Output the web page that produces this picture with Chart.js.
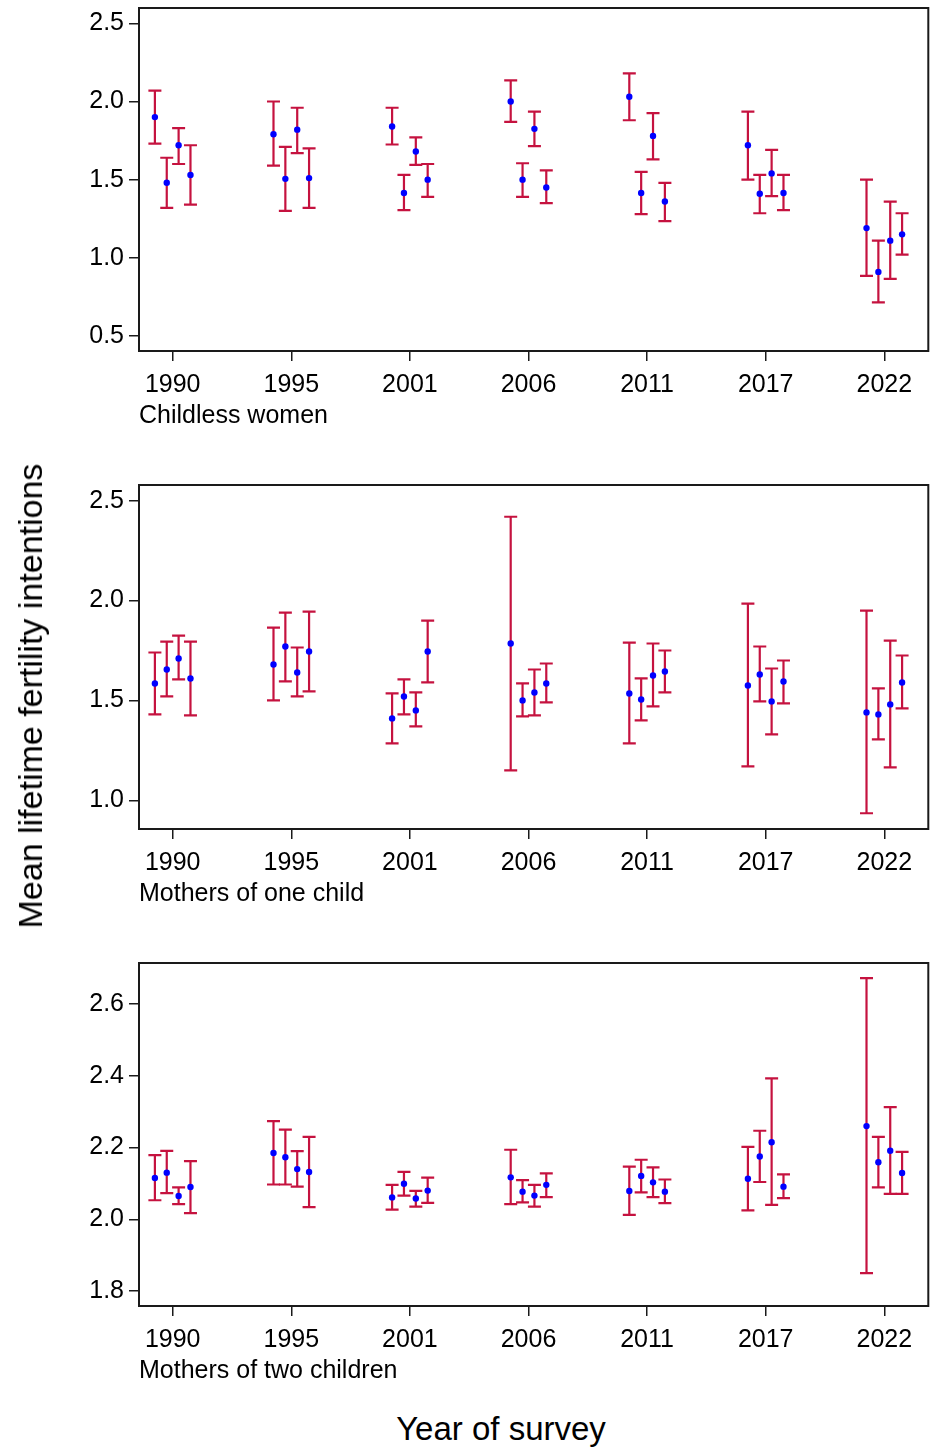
<!DOCTYPE html>
<html>
<head>
<meta charset="utf-8">
<script src="https://cdn.jsdelivr.net/npm/chart.js@4.4.1/dist/chart.umd.min.js"></script>
<style>
    body { margin: 0; background: #fff; }
    #page { position: relative; width: 932px; height: 1450px; font-family: "Liberation Sans", Arial, sans-serif; color: #000; }
    .panel { position: absolute; left: 0; }
    #yTitle {
        position: absolute; left: 30px; top: 696px; font-size: 34px; line-height: 1;
        white-space: nowrap; transform: translate(-50%, -50%) rotate(-90deg);
    }
    #xTitle {
        position: absolute; left: 501px; top: 1428px; font-size: 33px; line-height: 1;
        white-space: nowrap; transform: translate(-50%, -50%);
    }
</style>
</head>
<body>
<div id="page">
    <div class="panel" style="top:0px"><canvas id="childless" width="932" height="440"></canvas></div>
    <div class="panel" style="top:477px"><canvas id="oneChild" width="932" height="441"></canvas></div>
    <div class="panel" style="top:955px"><canvas id="twoChildren" width="932" height="440"></canvas></div>
    <div id="yTitle">Mean lifetime fertility intentions</div>
    <div id="xTitle">Year of survey</div>
</div>

<script>
// Survey rounds (x categories) and the offset of the 4 estimates inside each round
const surveyYears = ['1990', '1995', '2001', '2006', '2011', '2017', '2022'];
const pointOffsets = [-0.15, -0.05, 0.05, 0.15];

// Childless women: means and 95% CI bounds, one row per survey round
const childlessMean = [
    [1.90, 1.48, 1.72, 1.53],
    [1.79, 1.505, 1.82, 1.51],
    [1.84, 1.415, 1.68, 1.50],
    [2.00, 1.50, 1.825, 1.45],
    [2.03, 1.415, 1.78, 1.36],
    [1.72, 1.41, 1.54, 1.415],
    [1.19, 0.91, 1.11, 1.15]
];
const childlessLow = [
    [1.73, 1.32, 1.60, 1.34],
    [1.59, 1.30, 1.67, 1.32],
    [1.725, 1.305, 1.595, 1.39],
    [1.87, 1.39, 1.715, 1.35],
    [1.88, 1.28, 1.63, 1.235],
    [1.50, 1.285, 1.395, 1.305],
    [0.885, 0.715, 0.865, 1.02]
];
const childlessHigh = [
    [2.07, 1.64, 1.83, 1.72],
    [2.00, 1.71, 1.96, 1.70],
    [1.96, 1.53, 1.77, 1.60],
    [2.135, 1.605, 1.935, 1.56],
    [2.18, 1.55, 1.925, 1.48],
    [1.935, 1.53, 1.69, 1.53],
    [1.50, 1.11, 1.36, 1.285]
];

// Mothers of one child
const oneChildMean = [
    [1.585, 1.655, 1.71, 1.61],
    [1.68, 1.77, 1.64, 1.745],
    [1.41, 1.52, 1.45, 1.745],
    [1.785, 1.50, 1.54, 1.585],
    [1.535, 1.505, 1.625, 1.645],
    [1.575, 1.63, 1.495, 1.595],
    [1.44, 1.43, 1.48, 1.59]
];
const oneChildLow = [
    [1.43, 1.52, 1.605, 1.425],
    [1.50, 1.595, 1.52, 1.545],
    [1.285, 1.43, 1.37, 1.59],
    [1.15, 1.42, 1.425, 1.49],
    [1.285, 1.40, 1.47, 1.54],
    [1.17, 1.495, 1.33, 1.485],
    [0.935, 1.305, 1.165, 1.46]
];
const oneChildHigh = [
    [1.74, 1.795, 1.825, 1.795],
    [1.865, 1.94, 1.765, 1.945],
    [1.535, 1.605, 1.54, 1.90],
    [2.42, 1.585, 1.655, 1.685],
    [1.79, 1.61, 1.785, 1.75],
    [1.985, 1.77, 1.66, 1.70],
    [1.95, 1.56, 1.80, 1.725]
];

// Mothers of two children
const twoChildrenMean = [
    [2.115, 2.13, 2.065, 2.09],
    [2.185, 2.173, 2.14, 2.132],
    [2.061, 2.099, 2.058, 2.08],
    [2.117, 2.077, 2.066, 2.096],
    [2.079, 2.121, 2.103, 2.077],
    [2.113, 2.175, 2.215, 2.091],
    [2.26, 2.159, 2.191, 2.129]
];
const twoChildrenLow = [
    [2.053, 2.073, 2.042, 2.017],
    [2.097, 2.097, 2.091, 2.034],
    [2.027, 2.066, 2.035, 2.046],
    [2.042, 2.047, 2.035, 2.062],
    [2.012, 2.075, 2.062, 2.045],
    [2.025, 2.104, 2.04, 2.059],
    [1.85, 2.089, 2.071, 2.071]
];
const twoChildrenHigh = [
    [2.179, 2.191, 2.089, 2.162],
    [2.274, 2.25, 2.19, 2.23],
    [2.096, 2.132, 2.079, 2.116],
    [2.194, 2.109, 2.096, 2.128],
    [2.147, 2.166, 2.145, 2.111],
    [2.202, 2.247, 2.393, 2.125],
    [2.673, 2.23, 2.313, 2.188]
];

// Y tick labels for each panel
const childlessTicks = [0.5, 1.0, 1.5, 2.0, 2.5];
const oneChildTicks = [1.0, 1.5, 2.0, 2.5];
const twoChildrenTicks = [1.8, 2.0, 2.2, 2.4, 2.6];

const barColor = '#c5123f';
const dotColor = '#0000ff';
const axisColor = '#1a1a1a';
const tickFont = { family: '"Liberation Sans", Arial, sans-serif', size: 25 };

// Box around the plotting area (the original has a full frame)
const framePlugin = {
    id: 'frame',
    beforeDatasetsDraw(chart) {
        const a = chart.chartArea;
        const ctx = chart.ctx;
        ctx.save();
        ctx.strokeStyle = axisColor;
        ctx.lineWidth = 2;
        ctx.strokeRect(a.left, a.top, a.right - a.left, a.bottom - a.top);
        ctx.restore();
    }
};

// Each CI becomes a 2-point line with flat "line" markers as caps
function buildDatasets(means, lows, highs) {
    const sets = [];
    const dots = [];
    means.forEach((group, g) => {
        group.forEach((m, k) => {
            const x = g + pointOffsets[k];
            dots.push({ x: x, y: m });
            sets.push({
                data: [{ x: x, y: lows[g][k] }, { x: x, y: highs[g][k] }],
                showLine: true,
                borderColor: barColor,
                borderWidth: 2.2,
                pointStyle: 'line',
                pointRadius: 6.5,
                pointBorderColor: barColor,
                pointBorderWidth: 2.2,
                order: 2
            });
        });
    });
    sets.push({
        data: dots,
        pointRadius: 3.2,
        pointBackgroundColor: dotColor,
        pointBorderWidth: 0,
        order: 1
    });
    return sets;
}

function makePanel(id, label, means, lows, highs, yMin, yMax, yTicks) {
    return new Chart(document.getElementById(id), {
        type: 'scatter',
        data: { datasets: buildDatasets(means, lows, highs) },
        options: {
            responsive: false,
            animation: false,
            events: [],
            layout: { autoPadding: false, padding: { top: 8, right: 3.7, left: 0, bottom: 0 } },
            plugins: { legend: { display: false }, tooltip: { enabled: false } },
            scales: {
                x: {
                    type: 'linear',
                    min: -0.284,
                    max: 6.371,
                    afterBuildTicks: s => { s.ticks = surveyYears.map((_, i) => ({ value: i })); },
                    afterFit: s => { s.height = 89; s.paddingLeft = 0; s.paddingRight = 0; },
                    ticks: {
                        callback: v => surveyYears[v],
                        font: tickFont, color: '#000', padding: 9,
                        maxRotation: 0, autoSkip: false
                    },
                    grid: { drawOnChartArea: false, tickLength: 10, color: axisColor, lineWidth: 1.5 },
                    border: { display: false },
                    title: {
                        display: true, text: label, align: 'start',
                        font: tickFont, color: '#000', padding: { top: 0, bottom: 9 }
                    }
                },
                y: {
                    min: yMin,
                    max: yMax,
                    afterBuildTicks: s => { s.ticks = yTicks.map(v => ({ value: v })); },
                    afterFit: s => { s.width = 139; s.paddingTop = 0; s.paddingBottom = 0; },
                    ticks: { callback: v => v.toFixed(1), font: tickFont, color: '#000', padding: 5 },
                    grid: { drawOnChartArea: false, tickLength: 10, color: axisColor, lineWidth: 1.5 },
                    border: { display: false }
                }
            }
        },
        plugins: [framePlugin]
    });
}

makePanel('childless', 'Childless women', childlessMean, childlessLow, childlessHigh, 0.404, 2.598, childlessTicks);
makePanel('oneChild', 'Mothers of one child', oneChildMean, oneChildLow, oneChildHigh, 0.856, 2.579, oneChildTicks);
makePanel('twoChildren', 'Mothers of two children', twoChildrenMean, twoChildrenLow, twoChildrenHigh, 1.758, 2.715, twoChildrenTicks);
</script>
</body>
</html>
